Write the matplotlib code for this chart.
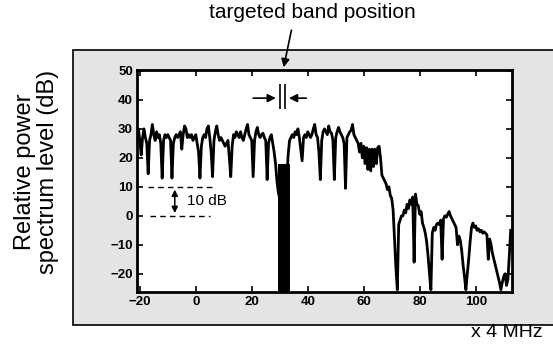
import numpy as np
import matplotlib
matplotlib.use('Agg')
import matplotlib.pyplot as plt
from matplotlib.patches import Rectangle

plt.rcParams['font.family'] = ['Liberation Sans', 'DejaVu Sans']

# frequency axis in units of 4 MHz, sampled every 0.5
freq = np.arange(-21, 113, 0.5)

# relative power spectrum level (dB)
level = [
    28, 30, 26, 21, 27, 30, 27, 25, 14.5, 26, 28, 31.5, 28, 26, 29, 27, 28, 25, 13, 26,
    28, 27, 28, 27, 26, 13, 25, 27, 28, 27, 28, 29, 23, 28, 31, 30, 27, 28, 27, 28,
    26, 27, 28, 25, 22, 13, 24, 27, 28, 27, 30, 31, 27, 22, 13.5, 26, 29, 31, 28, 26,
    27, 26, 25, 24, 25, 26, 20, 13.5, 24, 28, 27, 29, 28, 27, 29, 27, 26, 28, 30, 31.5,
    28, 27, 26, 13.5, 26, 29, 30.5, 28, 27, 28, 28.5, 27, 26, 12.5, 25, 27, 28, 25, 22, 18,
    12, 8, 6, 5, 5, 6, 8, 12, 21, 26, 27, 28, 27, 29, 28, 30, 27, 23, 19, 27,
    28, 27, 29, 28, 27, 28, 30, 31.5, 28, 27, 22, 12.5, 26, 29, 30, 29, 28, 31, 29, 28.5,
    26, 12.5, 27, 29, 30.5, 29, 28, 27, 25, 9.5, 27, 28, 29, 29.5, 31.5, 28, 27, 26, 25, 22,
    25, 20, 24, 18, 23.5, 16, 23, 15.5, 23, 17, 23, 18, 23.5, 24, 20, 14, 13, 12, 11, 9,
    10, 7, 6, 2, -8, -18, -25.5, -3, -1.5, 0, 0, 2, 1, 4, 2.5, 5.5, 4, 6.5, -16, 7.5,
    4, 3.5, 0.5, 1.5, -2.5, -4, -6, -9, -14, -20, -25.5, -6, -4, -5, -3, -2.5, -3, -1.5, -15, -1,
    0, -0.5, 0.5, 1.5, 0, -1, -2, -3, -4, -10, -7, -8.5, -12, -17, -21, -25.5, -20, -15, -9, -4,
    -2.5, -4, -3.5, -5, -4.5, -5.5, -5, -6, -5.5, -6, -6.5, -15, -8, -10, -13, -15, -17, -19, -21, -23,
    -25.5, -23, -21, -20, -24, -22, -14, -5,
]

band_lo, band_hi = 29.3, 33.6
band_top = 18
x_ticks = [-20, 0, 20, 40, 60, 80, 100]
y_ticks = [-20, -10, 0, 10, 20, 30, 40, 50]
y_min, y_max = -26.3, 50.3

fig = plt.figure(figsize=(5.53, 3.44), dpi=100)

# grey plate behind the plot
fig.patches.append(Rectangle((0.132, 0.055), 0.9, 0.80, transform=fig.transFigure,
                             facecolor='#e4e4e4', edgecolor='black', lw=1.2, zorder=-1))

ax = fig.add_axes([0.2477, 0.151, 0.6783, 0.6455])
ax.set_zorder(2)
ax.set_facecolor('white')

ax.plot(freq, level, color='black', lw=2.0)

# solid block under the notch at the targeted band
ax.fill_between([band_lo, band_hi], y_min, band_top, color='black', lw=0)

ax.set_xlim(-21, 113)
ax.set_ylim(y_min, y_max)
ax.set_xticks(x_ticks)
ax.set_yticks(y_ticks)
ax.tick_params(direction='in', length=4, width=1.2, top=True, right=True,
               labelsize=9.5, pad=3)
for lab in ax.get_xticklabels() + ax.get_yticklabels():
    lab.set_fontweight('bold')
for sp in ax.spines.values():
    sp.set_linewidth(2)

# band width marker
ax.vlines([30.0, 31.9], 37, 45.5, color='black', lw=1.2)
ax.annotate('', xy=(29.6, 40.6), xytext=(19.5, 40.6),
            arrowprops=dict(arrowstyle='-|>', color='black', lw=1.2, mutation_scale=12))
ax.annotate('', xy=(32.3, 40.6), xytext=(40.5, 40.6),
            arrowprops=dict(arrowstyle='-|>', color='black', lw=1.2, mutation_scale=12))

# 10 dB scale
ax.hlines(10, -17.1, 5.7, color='black', lw=1, linestyles=(0, (4, 3)))
ax.hlines(0, -16.4, 5.0, color='black', lw=1, linestyles=(0, (4, 3)))
ax.annotate('', xy=(-7.5, 0), xytext=(-7.5, 10),
            arrowprops=dict(arrowstyle='<|-|>', color='black', lw=1.1, mutation_scale=9))
ax.text(-3.0, 5, '10 dB', fontsize=11, va='center', ha='left')

# callout above the plot
fig.text(0.564, 0.965, 'targeted band position', fontsize=15, ha='center', va='center')
ax.annotate('', xy=(31.2, 50.3), xycoords='data', xytext=(0.528, 0.92),
            textcoords='figure fraction', annotation_clip=False,
            arrowprops=dict(arrowstyle='-|>', color='black', lw=1.2, mutation_scale=12))

fig.text(0.982, 0.032, 'x 4 MHz', fontsize=14, ha='right', va='center')
fig.text(0.066, 0.5, 'Relative power\nspectrum level (dB)', fontsize=17, rotation=90,
         ha='center', va='center', linespacing=1.05, multialignment='center')

fig.savefig('out.png', dpi=100)
